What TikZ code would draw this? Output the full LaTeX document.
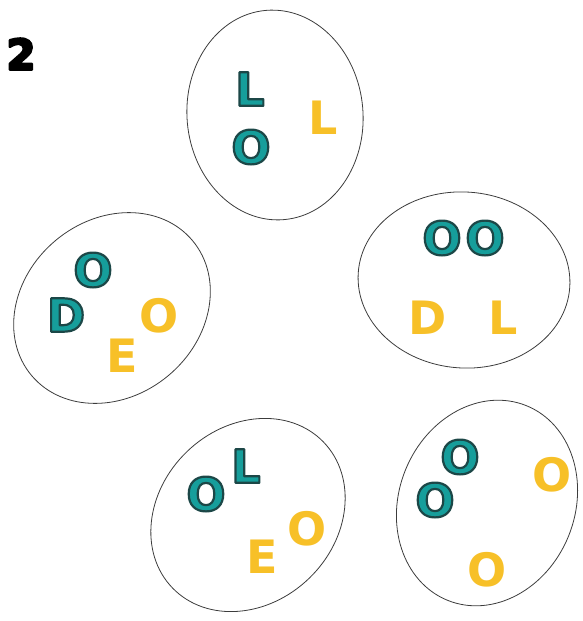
\documentclass[tikz,border=0pt]{standalone}
\usepackage{fontspec}
\setmainfont{DejaVu Sans}
\definecolor{tealfill}{RGB}{22,158,155}
\definecolor{goldfill}{RGB}{247,192,40}
\definecolor{ringcol}{RGB}{60,60,60}
\tikzset{
  letter/.style={inner sep=0pt, font=\fontsize{46}{46}\selectfont\bfseries},
  ring/.style={draw=ringcol, line width=0.8pt},
}
% teal letter with a dark outline: text render mode 2 (fill and stroke)
\newcommand{\outlined}[1]{\special{pdf:literal direct 2 Tr 2.2 w 1 j 0.11 0.28 0.28 RG}#1\special{pdf:literal direct 0 Tr}}
\newcommand{\heavy}[1]{\special{pdf:literal direct 2 Tr 2.4 w 1 j 0 0 0 RG}#1\special{pdf:literal direct 0 Tr}}
\newcommand{\tealchar}[3]{\node[letter, text=tealfill] (#2) at (#1) {\outlined{#3}};}
\newcommand{\goldchar}[3]{\node[letter, text=goldfill] (#2) at (#1) {#3};}
\begin{document}
\begin{tikzpicture}[x=1pt,y=-1pt]
\useasboundingbox (0,0) rectangle (582,621);
\node[letter, text=black, font=\fontsize{42}{42}\selectfont\bfseries] (num) at (21,54) {\heavy{2}};
% ellipses
\draw[ring] (275,115) ellipse [x radius=105pt, y radius=88pt, rotate=95];
\draw[ring] (112,308) ellipse [x radius=105pt, y radius=88pt, rotate=40];
\draw[ring] (464,280) ellipse [x radius=106pt, y radius=88pt, rotate=-4];
\draw[ring] (248,515) ellipse [x radius=105pt, y radius=88pt, rotate=44];
\draw[ring] (487,503) ellipse [x radius=105pt, y radius=88pt, rotate=68];
% top cluster
\tealchar{250,89}{aL}{L}
\tealchar{251,147}{aO}{O}
\goldchar{323,118}{aY}{L}
% left cluster
\tealchar{93,270}{bO}{O}
\tealchar{66,315}{bD}{D}
\goldchar{159,316}{bY}{O}
\goldchar{122,356}{bE}{E}
% right cluster
\tealchar{442,238}{cO}{O}
\tealchar{485,238}{cP}{O}
\goldchar{428,318}{cD}{D}
\goldchar{503,318}{cL}{L}
% bottom middle cluster
\tealchar{206,494}{dO}{O}
\tealchar{246,466}{dL}{L}
\goldchar{307,529}{dY}{O}
\goldchar{262,557}{dE}{E}
% bottom right cluster
\tealchar{460,457}{eO}{O}
\tealchar{435,500}{eP}{O}
\goldchar{552,475}{eY}{O}
\goldchar{487,570}{eZ}{O}
\end{tikzpicture}
\end{document}
